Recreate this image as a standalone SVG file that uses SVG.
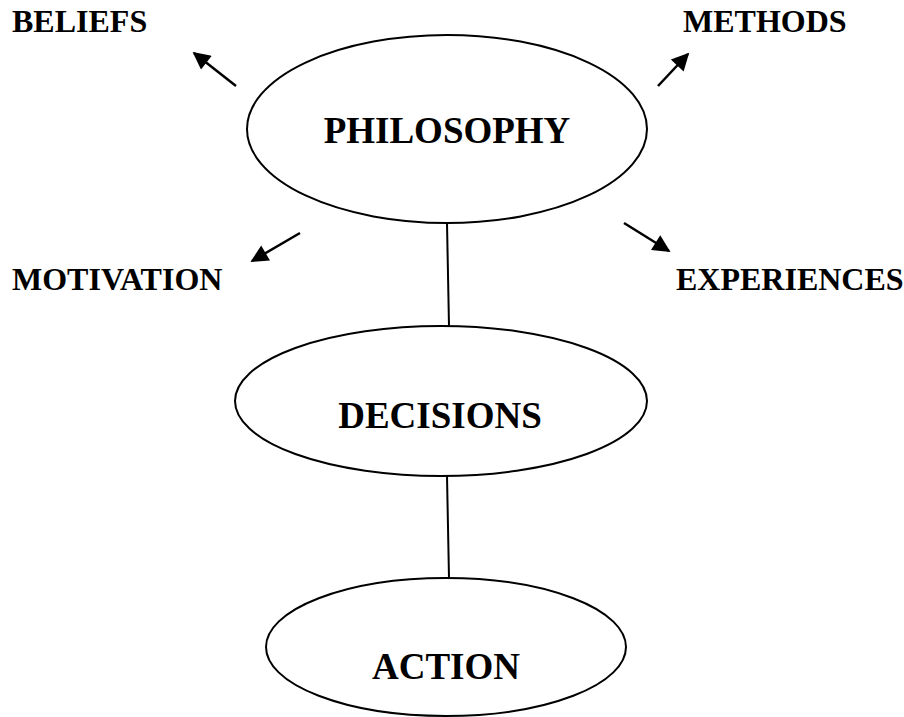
<svg xmlns="http://www.w3.org/2000/svg" width="904" height="717" viewBox="0 0 904 717">
<style>
.node{fill:#fff;stroke:#000;stroke-width:2}
.lbl{font-family:"Liberation Serif","Times New Roman",serif;font-weight:bold;fill:#000}
.big{font-size:37px}
.sm{font-size:32px}
.conn{stroke:#000;stroke-width:2;fill:none}
.arr{stroke:#000;stroke-width:2.5;fill:none;marker-end:url(#ah)}
</style>
<defs>
<marker id="ah" viewBox="0 0 10 10" refX="9" refY="5" markerWidth="8" markerHeight="7" markerUnits="strokeWidth" orient="auto">
<path d="M0,0 L10,5 L0,10 z" fill="#000"/>
</marker>
</defs>
<rect width="904" height="717" fill="#fff"/>
<g id="connectors">
<line class="conn" x1="447" y1="223" x2="449" y2="326"/>
<line class="conn" x1="447" y1="476" x2="449" y2="578"/>
<line class="arr" x1="236" y1="86" x2="194" y2="53"/>
<line class="arr" x1="658" y1="86" x2="688" y2="54"/>
<line class="arr" x1="300" y1="233" x2="252" y2="261"/>
<line class="arr" x1="624" y1="223" x2="669" y2="251"/>
</g>
<g id="philosophy">
<ellipse class="node" cx="447" cy="129" rx="200" ry="94"/>
<text class="lbl big" x="447" y="143" text-anchor="middle">PHILOSOPHY</text>
</g>
<g id="decisions">
<ellipse class="node" cx="441" cy="401" rx="206" ry="75"/>
<text class="lbl big" x="440" y="428" text-anchor="middle">DECISIONS</text>
</g>
<g id="action">
<ellipse class="node" cx="446" cy="647" rx="180" ry="69"/>
<text class="lbl big" x="446" y="679" text-anchor="middle">ACTION</text>
</g>
<g id="beliefs"><text class="lbl sm" x="12" y="32">BELIEFS</text></g>
<g id="methods"><text class="lbl sm" x="683" y="32">METHODS</text></g>
<g id="motivation"><text class="lbl sm" x="12" y="290">MOTIVATION</text></g>
<g id="experiences"><text class="lbl sm" x="676" y="290">EXPERIENCES</text></g>
</svg>
